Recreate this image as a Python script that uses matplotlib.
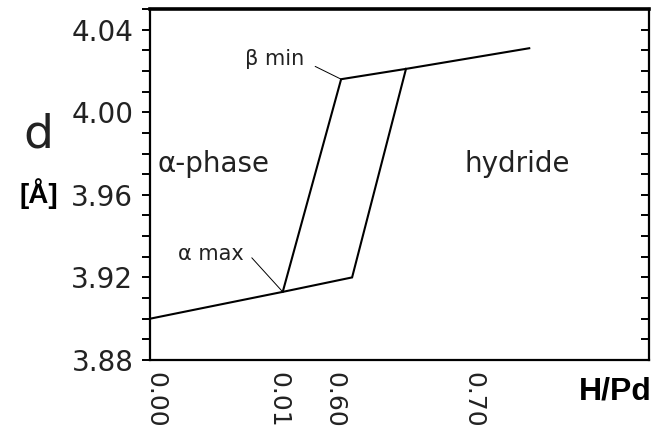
import matplotlib
matplotlib.use("Agg")
import matplotlib.pyplot as plt
import matplotlib.transforms as mtransforms
from matplotlib.ticker import MultipleLocator

# composition position along the (non-linear) H/Pd axis, and lattice parameter d [Å]
path_a_x = [0.0, 26.6, 38.3, 51.3, 76.0]
path_a_y = [3.900, 3.913, 4.016, 4.021, 4.031]
path_b_x = [26.6, 40.5, 51.3]
path_b_y = [3.913, 3.920, 4.021]

x_tick_pos = [0.0, 24.8, 35.9, 63.9]
x_tick_labels = ["0.00", "0.01", "0.60", "0.70"]
y_major = [3.88, 3.92, 3.96, 4.00, 4.04]

# annotation points (label anchor -> marked corner)
beta_min_xy = (38.3, 4.016)
beta_min_from = (33.1, 4.0222)
alpha_max_xy = (26.6, 3.913)
alpha_max_from = (20.4, 3.9295)

plt.rcParams['font.family'] = ['DejaVu Sans']

fig = plt.figure(figsize=(6.56, 4.34), dpi=100)
ax = fig.add_axes([150 / 656, 74 / 434, 499 / 656, 351 / 434])

ax.plot(path_a_x, path_a_y, color="black", lw=1.5, solid_joinstyle="miter")
ax.plot(path_b_x, path_b_y, color="black", lw=1.5, solid_joinstyle="miter")

ax.annotate("", xy=beta_min_xy, xytext=beta_min_from,
            arrowprops=dict(arrowstyle="-", lw=0.7, color="black", shrinkA=0, shrinkB=0))
ax.annotate("", xy=alpha_max_xy, xytext=alpha_max_from,
            arrowprops=dict(arrowstyle="-", lw=0.7, color="black", shrinkA=0, shrinkB=0))

ax.set_xlim(0, 100)
ax.set_ylim(3.88, 4.05)

ax.set_yticks(y_major)
ax.set_yticklabels([f"{v:.2f}" for v in y_major])
ax.yaxis.set_minor_locator(MultipleLocator(0.01))
ax.tick_params(axis="y", which="both", direction="out", length=6, width=1.4,
               labelsize=20, pad=6, right=False, labelcolor="#222222")

# right side ticks point inward
sec = ax.secondary_yaxis("right")
sec.set_yticks(y_major)
sec.yaxis.set_minor_locator(MultipleLocator(0.01))
sec.tick_params(axis="y", which="both", direction="in", length=6, width=1.4, labelright=False)
sec.spines["right"].set_visible(False)

ax.set_xticks(x_tick_pos)
ax.set_xticklabels(x_tick_labels, rotation=-90)
ax.tick_params(axis="x", length=0, labelsize=18, pad=9, labelcolor="#222222")
offset = mtransforms.ScaledTranslation(5 / 100, 0, fig.dpi_scale_trans)
for lab in ax.get_xticklabels():
    lab.set_transform(lab.get_transform() + offset)

for side in ["left", "bottom", "right"]:
    ax.spines[side].set_linewidth(1.6)
ax.spines["top"].set_linewidth(2.6)

ax.text(0.016, 0.536, "α-phase", transform=ax.transAxes, fontsize=20,
        va="baseline", ha="left", color="#222222")
ax.text(0.631, 0.536, "hydride", transform=ax.transAxes, fontsize=20,
        va="baseline", ha="left", color="#222222")
ax.text(0.190, 0.840, "β min", transform=ax.transAxes, fontsize=15,
        va="baseline", ha="left", color="#222222")
ax.text(0.056, 0.285, "α max", transform=ax.transAxes, fontsize=15,
        va="baseline", ha="left", color="#222222")

fig.text(38 / 656, 1 - 135 / 434, "d", fontsize=34, ha="center", va="center", color="#222222")
fig.text(39 / 656, 1 - 194 / 434, "[Å]", fontsize=20, fontweight="bold",
         family="Liberation Sans", ha="center", va="center")
fig.text(615 / 656, 1 - 392 / 434, "H/Pd", fontsize=23, fontweight="bold",
         family="Liberation Sans", ha="center", va="center")

fig.savefig("out.png", dpi=100, facecolor="white")
